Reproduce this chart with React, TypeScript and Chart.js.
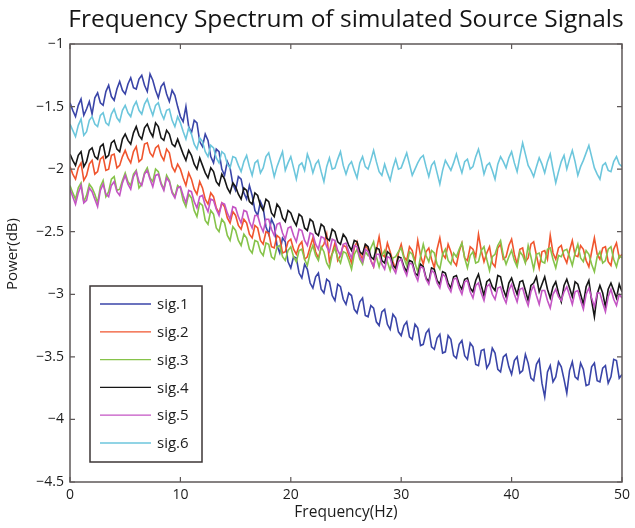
import React, { useEffect, useRef } from 'react';
import { Chart, registerables } from 'chart.js';

Chart.register(...registerables);

const TITLE = 'Frequency Spectrum of simulated Source Signals';
const X_LABEL = 'Frequency(Hz)';
const Y_LABEL = 'Power(dB)';
const SERIES_NAMES = ['sig.1', 'sig.2', 'sig.3', 'sig.4', 'sig.5', 'sig.6'];
const SERIES_COLORS = ['#3a45a8', '#f0552e', '#86c34a', '#161616', '#c455c4', '#6cc6dc'];
const X_TICKS = [0, 10, 20, 30, 40, 50];
const Y_TICKS = [-4.5, -4, -3.5, -3, -2.5, -2, -1.5, -1];
const FREQ_STEP = 0.25; // Hz between samples

const SIG1 = [
  -1.47, -1.53, -1.58, -1.49, -1.44, -1.57, -1.52, -1.46, -1.56, -1.43, -1.39, -1.47, -1.49, -1.38, -1.33, -1.42, -1.45, -1.36, -1.30, -1.37,
  -1.40, -1.32, -1.27, -1.35, -1.36, -1.28, -1.25, -1.33, -1.38, -1.24, -1.29, -1.37, -1.43, -1.34, -1.31, -1.40, -1.46, -1.37, -1.41, -1.50,
  -1.58, -1.62, -1.50, -1.66, -1.71, -1.61, -1.63, -1.78, -1.82, -1.72, -1.77, -1.90, -1.95, -1.84, -1.86, -2.00, -2.05, -1.94, -1.99, -2.12,
  -2.17, -2.06, -2.08, -2.19, -2.24, -2.13, -2.21, -2.33, -2.37, -2.26, -2.31, -2.46, -2.52, -2.40, -2.45, -2.61, -2.67, -2.55, -2.58, -2.74,
  -2.79, -2.70, -2.71, -2.83, -2.87, -2.76, -2.80, -2.91, -2.95, -2.86, -2.83, -2.96, -2.99, -2.88, -2.90, -3.01, -3.05, -2.92, -2.94, -3.04,
  -3.08, -2.99, -3.01, -3.12, -3.15, -3.06, -3.03, -3.17, -3.18, -3.09, -3.11, -3.22, -3.25, -3.14, -3.12, -3.24, -3.28, -3.16, -3.19, -3.30,
  -3.33, -3.25, -3.22, -3.34, -3.36, -3.24, -3.27, -3.41, -3.40, -3.31, -3.28, -3.42, -3.44, -3.35, -3.32, -3.47, -3.46, -3.33, -3.36, -3.49,
  -3.51, -3.40, -3.37, -3.49, -3.52, -3.39, -3.42, -3.56, -3.57, -3.45, -3.44, -3.59, -3.55, -3.43, -3.47, -3.60, -3.62, -3.50, -3.48, -3.58,
  -3.64, -3.53, -3.50, -3.63, -3.61, -3.48, -3.55, -3.67, -3.69, -3.56, -3.52, -3.71, -3.82, -3.62, -3.57, -3.70, -3.66, -3.54, -3.58, -3.68,
  -3.79, -3.61, -3.54, -3.66, -3.68, -3.55, -3.60, -3.73, -3.72, -3.58, -3.55, -3.69, -3.70, -3.59, -3.57, -3.71, -3.66, -3.52, -3.53, -3.67,
  -3.64,
];

const SIG2 = [
  -1.98, -2.04, -2.08, -1.99, -1.95, -2.09, -2.05, -1.96, -1.93, -2.04, -2.02, -1.92, -1.90, -2.01, -2.00, -1.89, -1.88, -1.99, -1.97, -1.90,
  -1.85, -1.91, -1.95, -1.86, -1.82, -1.94, -1.92, -1.80, -1.79, -1.87, -1.90, -1.83, -1.81, -1.89, -1.93, -1.84, -1.87, -1.98, -2.02, -1.96,
  -2.00, -2.07, -2.13, -2.03, -2.08, -2.16, -2.20, -2.10, -2.15, -2.24, -2.28, -2.19, -2.22, -2.31, -2.35, -2.27, -2.30, -2.39, -2.43, -2.34,
  -2.37, -2.45, -2.48, -2.40, -2.43, -2.52, -2.55, -2.45, -2.47, -2.57, -2.60, -2.50, -2.51, -2.62, -2.63, -2.53, -2.55, -2.67, -2.66, -2.58,
  -2.56, -2.64, -2.68, -2.61, -2.58, -2.72, -2.70, -2.62, -2.55, -2.66, -2.71, -2.63, -2.60, -2.52, -2.74, -2.67, -2.59, -2.73, -2.69, -2.61,
  -2.62, -2.69, -2.75, -2.63, -2.58, -2.67, -2.72, -2.61, -2.64, -2.73, -2.78, -2.65, -2.54, -2.68, -2.70, -2.59, -2.66, -2.74, -2.80, -2.67,
  -2.60, -2.70, -2.73, -2.62, -2.65, -2.74, -2.57, -2.69, -2.76, -2.66, -2.63, -2.72, -2.79, -2.64, -2.55, -2.68, -2.71, -2.60, -2.66, -2.74,
  -2.77, -2.66, -2.59, -2.71, -2.73, -2.62, -2.64, -2.70, -2.52, -2.65, -2.74, -2.67, -2.62, -2.75, -2.78, -2.63, -2.60, -2.72, -2.70, -2.61,
  -2.56, -2.68, -2.76, -2.64, -2.63, -2.74, -2.71, -2.60, -2.58, -2.69, -2.79, -2.66, -2.65, -2.72, -2.53, -2.67, -2.72, -2.63, -2.61, -2.70,
  -2.75, -2.65, -2.57, -2.69, -2.70, -2.61, -2.64, -2.73, -2.78, -2.66, -2.55, -2.68, -2.72, -2.63, -2.62, -2.74, -2.77, -2.64, -2.59, -2.71,
  -2.68,
];

const SIG3 = [
  -2.13, -2.19, -2.24, -2.15, -2.11, -2.26, -2.21, -2.12, -2.15, -2.20, -2.27, -2.14, -2.09, -2.22, -2.18, -2.08, -2.06, -2.17, -2.16, -2.09,
  -2.03, -2.10, -2.13, -2.04, -2.01, -2.15, -2.12, -2.03, -1.99, -2.07, -2.10, -2.00, -2.02, -2.11, -2.16, -2.05, -2.09, -2.18, -2.22, -2.13,
  -2.15, -2.25, -2.30, -2.20, -2.23, -2.33, -2.38, -2.27, -2.29, -2.41, -2.44, -2.33, -2.36, -2.47, -2.50, -2.40, -2.43, -2.53, -2.57, -2.46,
  -2.49, -2.57, -2.61, -2.52, -2.55, -2.64, -2.67, -2.57, -2.58, -2.66, -2.69, -2.59, -2.60, -2.70, -2.72, -2.62, -2.61, -2.70, -2.73, -2.65,
  -2.62, -2.70, -2.74, -2.65, -2.64, -2.72, -2.77, -2.67, -2.61, -2.69, -2.73, -2.62, -2.66, -2.75, -2.79, -2.68, -2.63, -2.71, -2.75, -2.66,
  -2.67, -2.73, -2.80, -2.68, -2.64, -2.72, -2.76, -2.66, -2.69, -2.63, -2.58, -2.70, -2.78, -2.69, -2.65, -2.74, -2.81, -2.71, -2.70, -2.66,
  -2.63, -2.71, -2.77, -2.66, -2.68, -2.75, -2.82, -2.70, -2.60, -2.69, -2.74, -2.65, -2.67, -2.76, -2.80, -2.68, -2.64, -2.73, -2.76, -2.67,
  -2.70, -2.64, -2.59, -2.71, -2.79, -2.69, -2.66, -2.75, -2.74, -2.65, -2.62, -2.72, -2.81, -2.70, -2.68, -2.61, -2.57, -2.69, -2.76, -2.70,
  -2.65, -2.73, -2.78, -2.66, -2.69, -2.75, -2.61, -2.70, -2.80, -2.68, -2.67, -2.74, -2.75, -2.64, -2.63, -2.72, -2.79, -2.69, -2.70, -2.65,
  -2.64, -2.70, -2.77, -2.67, -2.60, -2.71, -2.74, -2.65, -2.68, -2.76, -2.82, -2.70, -2.66, -2.75, -2.73, -2.64, -2.62, -2.72, -2.78, -2.69,
  -2.71,
];

const SIG4 = [
  -1.88, -1.93, -1.97, -1.89, -1.86, -1.98, -1.94, -1.85, -1.83, -1.90, -1.92, -1.82, -1.80, -1.91, -1.89, -1.79, -1.77, -1.84, -1.86, -1.76,
  -1.72, -1.77, -1.80, -1.71, -1.66, -1.73, -1.76, -1.67, -1.64, -1.70, -1.74, -1.63, -1.66, -1.75, -1.77, -1.69, -1.72, -1.80, -1.82, -1.76,
  -1.82, -1.88, -1.93, -1.85, -1.89, -1.96, -2.00, -1.91, -1.97, -2.03, -2.07, -1.99, -2.02, -2.10, -2.13, -2.04, -2.08, -2.15, -2.19, -2.11,
  -2.14, -2.20, -2.24, -2.15, -2.17, -2.26, -2.28, -2.19, -2.21, -2.29, -2.33, -2.24, -2.26, -2.35, -2.38, -2.28, -2.31, -2.39, -2.42, -2.33,
  -2.35, -2.41, -2.45, -2.36, -2.38, -2.47, -2.49, -2.40, -2.42, -2.51, -2.53, -2.44, -2.46, -2.55, -2.57, -2.48, -2.50, -2.58, -2.60, -2.52,
  -2.55, -2.61, -2.65, -2.57, -2.58, -2.66, -2.68, -2.60, -2.62, -2.70, -2.72, -2.63, -2.64, -2.73, -2.75, -2.66, -2.68, -2.77, -2.79, -2.70,
  -2.71, -2.78, -2.82, -2.73, -2.74, -2.83, -2.85, -2.76, -2.78, -2.87, -2.90, -2.79, -2.80, -2.89, -2.92, -2.82, -2.83, -2.91, -2.95, -2.86,
  -2.85, -2.92, -2.96, -2.88, -2.87, -2.95, -2.98, -2.89, -2.84, -2.93, -3.01, -2.90, -2.88, -2.94, -2.97, -2.85, -2.86, -2.96, -3.02, -2.91,
  -2.87, -2.94, -3.00, -2.90, -2.89, -2.97, -3.05, -2.93, -2.91, -2.86, -2.98, -2.92, -2.86, -2.96, -3.03, -2.94, -2.90, -2.99, -3.06, -2.93,
  -2.88, -2.95, -3.02, -2.90, -2.92, -3.00, -3.08, -2.94, -2.89, -3.05, -3.18, -3.00, -2.93, -2.99, -3.10, -2.96, -2.91, -2.97, -3.03, -2.92,
  -2.98,
];

const SIG5 = [
  -2.16, -2.22, -2.28, -2.19, -2.13, -2.27, -2.25, -2.15, -2.18, -2.24, -2.30, -2.17, -2.12, -2.20, -2.22, -2.13, -2.10, -2.18, -2.21, -2.11,
  -2.05, -2.12, -2.16, -2.06, -2.02, -2.10, -2.13, -2.04, -2.01, -2.08, -2.14, -2.05, -2.04, -2.12, -2.17, -2.07, -2.10, -2.19, -2.23, -2.15,
  -2.14, -2.21, -2.27, -2.17, -2.18, -2.26, -2.31, -2.22, -2.21, -2.29, -2.34, -2.24, -2.25, -2.32, -2.37, -2.27, -2.28, -2.35, -2.40, -2.30,
  -2.31, -2.38, -2.43, -2.33, -2.34, -2.42, -2.47, -2.37, -2.37, -2.45, -2.50, -2.40, -2.40, -2.48, -2.53, -2.44, -2.43, -2.51, -2.56, -2.47,
  -2.46, -2.53, -2.58, -2.48, -2.49, -2.57, -2.61, -2.51, -2.52, -2.60, -2.64, -2.54, -2.55, -2.62, -2.66, -2.56, -2.57, -2.65, -2.69, -2.60,
  -2.59, -2.66, -2.71, -2.61, -2.62, -2.70, -2.74, -2.64, -2.66, -2.73, -2.78, -2.68, -2.68, -2.76, -2.80, -2.70, -2.71, -2.79, -2.83, -2.74,
  -2.72, -2.80, -2.85, -2.75, -2.76, -2.84, -2.89, -2.78, -2.79, -2.88, -2.92, -2.81, -2.83, -2.91, -2.95, -2.84, -2.86, -2.94, -2.98, -2.88,
  -2.87, -2.95, -3.00, -2.90, -2.89, -2.98, -3.03, -2.93, -2.91, -2.99, -3.05, -2.94, -2.92, -3.00, -3.04, -2.95, -2.94, -3.02, -3.07, -2.97,
  -2.92, -3.00, -3.06, -2.96, -2.95, -3.03, -3.09, -2.98, -2.93, -3.01, -3.08, -2.97, -2.97, -3.05, -3.11, -3.00, -2.96, -3.02, -3.05, -2.98,
  -2.94, -3.01, -3.08, -2.98, -2.97, -3.05, -3.12, -3.00, -2.95, -3.03, -3.10, -2.99, -2.99, -3.07, -3.14, -3.02, -2.96, -3.04, -3.09, -3.00,
  -3.03,
];

const SIG6 = [
  -1.64, -1.69, -1.74, -1.65, -1.60, -1.73, -1.70, -1.61, -1.58, -1.64, -1.66, -1.57, -1.55, -1.63, -1.65, -1.56, -1.52, -1.59, -1.62, -1.53,
  -1.49, -1.55, -1.58, -1.50, -1.46, -1.53, -1.56, -1.48, -1.44, -1.51, -1.57, -1.49, -1.47, -1.55, -1.60, -1.53, -1.52, -1.61, -1.66, -1.58,
  -1.63, -1.70, -1.76, -1.67, -1.72, -1.80, -1.84, -1.75, -1.78, -1.86, -1.90, -1.81, -1.83, -1.91, -1.95, -1.86, -1.88, -1.96, -1.99, -1.90,
  -1.91, -1.97, -2.02, -1.94, -1.89, -1.98, -2.05, -1.95, -1.93, -2.03, -1.99, -1.90, -1.87, -1.96, -2.06, -1.98, -1.92, -1.86, -2.01, -1.95,
  -1.90, -1.99, -2.08, -1.97, -1.95, -2.01, -1.88, -1.94, -2.03, -1.96, -1.93, -2.02, -2.10, -1.98, -1.91, -2.00, -1.99, -1.92, -1.86, -1.97,
  -2.04, -1.97, -1.94, -2.01, -2.07, -1.95, -1.90, -1.98, -2.00, -1.93, -1.85, -1.94, -2.02, -2.05, -1.96, -2.03, -2.09, -1.99, -1.92, -2.00,
  -1.99, -1.93, -1.87, -1.96, -2.05, -2.00, -1.95, -1.91, -1.89, -1.98, -2.06, -1.97, -1.94, -2.03, -2.12, -2.01, -1.93, -1.97, -2.01, -1.95,
  -1.88, -1.96, -2.03, -1.94, -1.92, -2.00, -1.98, -1.90, -1.84, -1.93, -2.04, -1.97, -1.95, -2.01, -2.08, -1.96, -1.90, -1.94, -1.99, -1.91,
  -1.86, -1.95, -2.02, -1.90, -1.79, -1.88, -1.97, -2.01, -2.06, -1.98, -1.91, -1.96, -2.03, -1.94, -1.88, -2.00, -2.11, -2.02, -1.94, -1.89,
  -2.00, -1.92, -1.85, -1.94, -2.05, -1.98, -1.93, -1.87, -1.81, -1.90, -1.99, -2.04, -2.08, -1.97, -1.95, -2.01, -2.02, -1.94, -1.90, -1.96,
  -1.98,
];

const SERIES = [SIG1, SIG2, SIG3, SIG4, SIG5, SIG6];
const FREQS = SIG1.map((_, i) => i * FREQ_STEP);

const FONT = '"Open Sans", "DejaVu Sans", sans-serif';
const TEXT_COLOR = '#1c1c1c';
const BOX_COLOR = '#5e5858';

const fmt = (v: number) => String(v).replace('-', '\u2212');

const decorations = {
  id: 'matlabDecor',
  afterDraw(chart: any) {
    const { ctx, chartArea: a, scales } = chart;
    const x = scales.x;
    const y = scales.y;
    ctx.save();
    // box
    ctx.strokeStyle = BOX_COLOR;
    ctx.lineWidth = 1.5;
    ctx.strokeRect(a.left, a.top, a.right - a.left, a.bottom - a.top);
    // inward ticks
    ctx.beginPath();
    const tl = 5;
    X_TICKS.forEach((v) => {
      const px = x.getPixelForValue(v);
      ctx.moveTo(px, a.bottom);
      ctx.lineTo(px, a.bottom - tl);
      ctx.moveTo(px, a.top);
      ctx.lineTo(px, a.top + tl);
    });
    Y_TICKS.forEach((v) => {
      const py = y.getPixelForValue(v);
      ctx.moveTo(a.left, py);
      ctx.lineTo(a.left + tl, py);
      ctx.moveTo(a.right, py);
      ctx.lineTo(a.right - tl, py);
    });
    ctx.lineWidth = 1.2;
    ctx.stroke();

    // title
    const cx = (a.left + a.right) / 2;
    ctx.fillStyle = '#151515';
    ctx.font = `24.5px ${FONT}`;
    ctx.textAlign = 'center';
    ctx.textBaseline = 'middle';
    ctx.fillText(TITLE, cx, a.top - 24);

    // axis labels
    ctx.fillStyle = TEXT_COLOR;
    ctx.font = `15.5px ${FONT}`;
    ctx.fillText(X_LABEL, cx, a.bottom + 31);
    ctx.save();
    ctx.translate(a.left - 57, a.top + 210);
    ctx.rotate(-Math.PI / 2);
    ctx.font = `15px ${FONT}`;
    ctx.fillText(Y_LABEL, 0, 0);
    ctx.restore();

    // legend
    const lx = a.left + 20;
    const ly = a.top + 242;
    const lw = 112;
    const lh = 176;
    ctx.fillStyle = '#ffffff';
    ctx.fillRect(lx, ly, lw, lh);
    ctx.strokeStyle = '#3c3636';
    ctx.lineWidth = 1.5;
    ctx.strokeRect(lx, ly, lw, lh);
    ctx.font = `15px ${FONT}`;
    ctx.textAlign = 'left';
    SERIES_NAMES.forEach((name, i) => {
      const yy = ly + 18 + i * 27.8;
      ctx.strokeStyle = SERIES_COLORS[i];
      ctx.lineWidth = 1.3;
      ctx.beginPath();
      ctx.moveTo(lx + 10, yy);
      ctx.lineTo(lx + 61, yy);
      ctx.stroke();
      ctx.fillStyle = TEXT_COLOR;
      ctx.fillText(name, lx + 67, yy + 1);
    });
    ctx.restore();
  },
};

export default function App() {
  const ref = useRef<HTMLCanvasElement | null>(null);

  useEffect(() => {
    if (!ref.current) return;
    const datasets = SERIES.map((vals, i) => ({
      label: SERIES_NAMES[i],
      data: vals.map((v, j) => ({ x: FREQS[j], y: v })),
      borderColor: SERIES_COLORS[i],
      backgroundColor: SERIES_COLORS[i],
      borderWidth: 1.6,
      pointRadius: 0,
      tension: 0,
      fill: false,
      order: SERIES.length - i,
    }));
    const chart = new Chart(ref.current, {
      type: 'line',
      data: { datasets },
      options: {
        responsive: false,
        animation: false,
        devicePixelRatio: 1,
        layout: { padding: { top: 44, right: 11, left: 0, bottom: 0 } },
        plugins: {
          legend: { display: false },
          tooltip: { enabled: false },
          title: { display: false },
        },
        scales: {
          x: {
            type: 'linear',
            min: 0,
            max: 50,
            afterBuildTicks: (s: any) => {
              s.ticks = X_TICKS.map((v) => ({ value: v }));
            },
            afterFit: (s: any) => {
              s.height = 46;
            },
            grid: { display: false, drawTicks: false },
            border: { display: false },
            ticks: {
              padding: 5,
              maxRotation: 0,
              color: TEXT_COLOR,
              font: { family: FONT, size: 14 },
              callback: (v: any) => fmt(Number(v)),
            },
          },
          y: {
            type: 'linear',
            min: -4.5,
            max: -1,
            afterBuildTicks: (s: any) => {
              s.ticks = Y_TICKS.map((v) => ({ value: v }));
            },
            afterFit: (s: any) => {
              s.width = 70;
            },
            grid: { display: false, drawTicks: false },
            border: { display: false },
            ticks: {
              padding: 6,
              color: TEXT_COLOR,
              font: { family: FONT, size: 14 },
              callback: (v: any) => fmt(Number(v)),
            },
          },
        },
      },
      plugins: [decorations],
    });
    return () => chart.destroy();
  }, []);

  return (
    <div style={{ position: 'fixed', left: 0, top: 0, width: 635, height: 528, background: '#ffffff' }}>
      <canvas ref={ref} width={635} height={528} style={{ width: 635, height: 528 }} />
    </div>
  );
}
